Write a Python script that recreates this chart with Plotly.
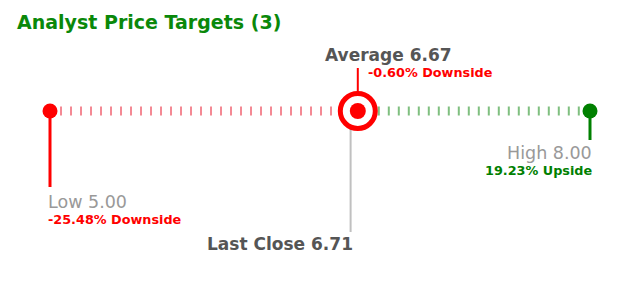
import plotly.graph_objects as go

# ---- data ----
title_text = "Analyst Price Targets (3)"
target_names = ["Low", "Average", "High"]
target_values = [5.00, 6.67, 8.00]
last_close_label = "Last Close"
last_close = 6.71

low, avg, high = target_values
def pct(v):
    return (v - last_close) / last_close * 100

def pct_text(v):
    p = pct(v)
    return f"{p:.2f}% " + ("Upside" if p >= 0 else "Downside")

RED = "#ff0000"
GREEN = "#008000"
FONT = "DejaVu Sans"

# pixel mapping: low -> 50px, high -> 590px, width 620 px
ppu = (590 - 50) / (high - low)
x_range = [low - 50 / ppu, high + (620 - 590) / ppu]
# y axis in pixels relative to the track line (track at pixel row 111, positive up)
TRACK = 111
y_range = [TRACK - 282, TRACK]

fig = go.Figure()

# dashed track: red from low to marker, green from marker to high
fig.add_trace(go.Scatter(x=[low, last_close], y=[0, 0], mode="lines",
                         line=dict(color="rgba(235,40,60,0.55)", width=9, dash="2px,8px"),
                         hoverinfo="skip"))
fig.add_trace(go.Scatter(x=[last_close, high], y=[0, 0], mode="lines",
                         line=dict(color="rgba(0,128,0,0.5)", width=9, dash="2px,8px"),
                         hoverinfo="skip"))

# stems
fig.add_trace(go.Scatter(x=[low, low], y=[0, TRACK - 187], mode="lines",
                         line=dict(color=RED, width=3), hoverinfo="skip"))
fig.add_trace(go.Scatter(x=[high, high], y=[0, TRACK - 140], mode="lines",
                         line=dict(color=GREEN, width=3), hoverinfo="skip"))
fig.add_trace(go.Scatter(x=[last_close, last_close], y=[0, TRACK - 68], mode="lines",
                         line=dict(color=RED, width=2), hoverinfo="skip"))
fig.add_trace(go.Scatter(x=[avg, avg], y=[0, TRACK - 232], mode="lines",
                         line=dict(color="#c0c0c0", width=2), hoverinfo="skip"))

# end dots
fig.add_trace(go.Scatter(x=[low], y=[0], mode="markers",
                         marker=dict(color=RED, size=15, line=dict(width=0)), hoverinfo="skip"))
fig.add_trace(go.Scatter(x=[high], y=[0], mode="markers",
                         marker=dict(color=GREEN, size=15, line=dict(width=0)), hoverinfo="skip"))
# bullseye
fig.add_trace(go.Scatter(x=[last_close], y=[0], mode="markers",
                         marker=dict(color="white", size=35, line=dict(color=RED, width=5)),
                         hoverinfo="skip"))
fig.add_trace(go.Scatter(x=[last_close], y=[0], mode="markers",
                         marker=dict(color=RED, size=16, line=dict(width=0)), hoverinfo="skip"))

def ann(text, x, y, size, color, bold=False, xanchor="left", xshift=0, xref="x"):
    fig.add_annotation(text=f"<b>{text}</b>" if bold else text, x=x, y=y, xref=xref, yref="y",
                       xanchor=xanchor, yanchor="middle", xshift=xshift, showarrow=False,
                       font=dict(family=FONT, size=size, color=color))

GRAY_DARK = "#555555"
GRAY_LIGHT = "#999999"

ann(title_text, 0, TRACK - 22, 19, "#0a880a", bold=True, xshift=15, xref="paper")
ann(f"{target_names[1]} {avg:.2f}", avg, TRACK - 55, 17, GRAY_DARK, bold=True, xshift=-28)
ann(pct_text(avg), last_close, TRACK - 72, 12.8, RED, bold=True, xshift=8)
ann(f"{target_names[0]} {low:.2f}", low, TRACK - 202, 17.5, GRAY_LIGHT, xshift=-4)
ann(pct_text(low), low, TRACK - 219, 12.8, RED, bold=True, xshift=-4)
ann(f"{target_names[2]} {high:.2f}", high, TRACK - 153, 17.5, GRAY_LIGHT, xanchor="right", xshift=4)
ann(pct_text(high), high, TRACK - 170, 12.8, GREEN, bold=True, xanchor="right", xshift=4)
ann(f"{last_close_label} {last_close:.2f}", avg, TRACK - 244, 17, GRAY_DARK, bold=True,
    xanchor="right", xshift=4)

fig.update_layout(
    width=620, height=282,
    margin=dict(l=0, r=0, t=0, b=0),
    paper_bgcolor="white", plot_bgcolor="white",
    showlegend=False,
    xaxis=dict(range=x_range, visible=False, fixedrange=True),
    yaxis=dict(range=y_range, visible=False, fixedrange=True),
)

fig.write_html("out.html")
